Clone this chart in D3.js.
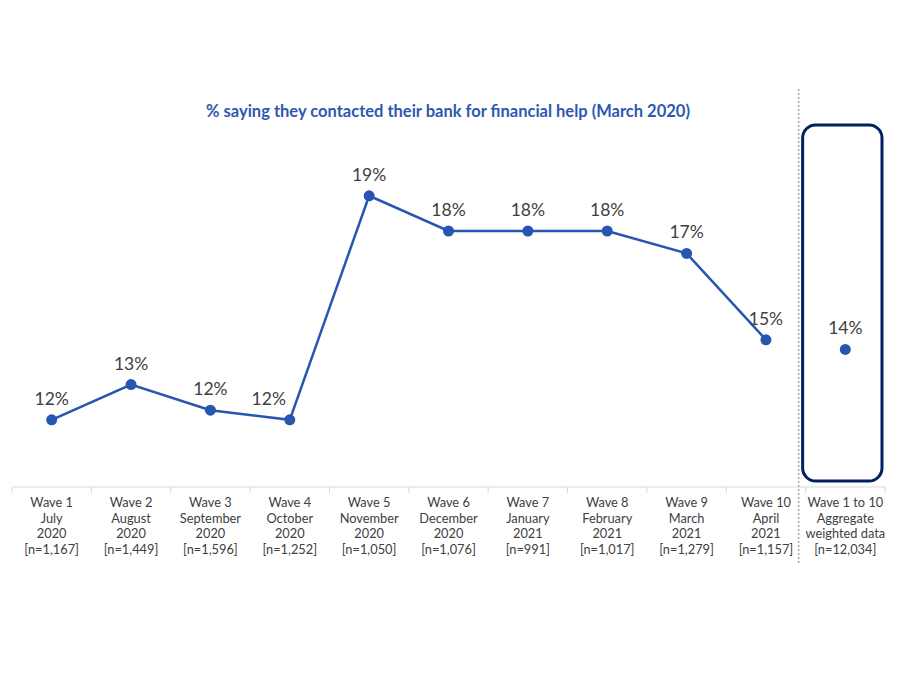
<!DOCTYPE html>
<html>
<head>
<meta charset="utf-8">
<script src="https://cdn.jsdelivr.net/npm/d3@7"></script>
<style>
  body { margin: 0; background: #fff; }
  svg { font-family: Lato, "Open Sans", sans-serif; }
</style>
</head>
<body>
<svg width="900" height="675"></svg>
<script>
// Category labels (each line of the axis label)
const waves = ["Wave 1", "Wave 2", "Wave 3", "Wave 4", "Wave 5", "Wave 6", "Wave 7", "Wave 8", "Wave 9", "Wave 10", "Wave 1 to 10"];
const months = ["July", "August", "September", "October", "November", "December", "January", "February", "March", "April", "Aggregate"];
const years = ["2020", "2020", "2020", "2020", "2020", "2020", "2021", "2021", "2021", "2021", "weighted data"];
const samples = ["[n=1,167]", "[n=1,449]", "[n=1,596]", "[n=1,252]", "[n=1,050]", "[n=1,076]", "[n=991]", "[n=1,017]", "[n=1,279]", "[n=1,157]", "[n=12,034]"];

// % values (line = waves 1-10, last one is the aggregate point)
const values = [12.1, 13.2, 12.4, 12.1, 19.1, 18.0, 18.0, 18.0, 17.3, 14.6, 14.3];
const valueLabels = ["12%", "13%", "12%", "12%", "19%", "18%", "18%", "18%", "17%", "15%", "14%"];

const title = "% saying they contacted their bank for financial help (March 2020)";

const svg = d3.select("svg");
const lineColor = "#2756b0";

const x = d3.scaleBand()
  .domain(waves)
  .range([12, 885]);

const y = d3.scaleLinear()
  .domain([10, 20])
  .range([487, 167]);

// Title
svg.append("text")
  .attr("x", 448)
  .attr("y", 117)
  .attr("text-anchor", "middle")
  .attr("font-size", 16.5)
  .attr("font-weight", "bold")
  .attr("fill", "#2e58b0")
  .text(title);

// Axis line and tick marks at category boundaries
const axisY = y(10);
svg.append("line")
  .attr("x1", 12).attr("x2", 885)
  .attr("y1", axisY).attr("y2", axisY)
  .attr("stroke", "#d9d9d9")
  .attr("stroke-width", 1);

const bounds = waves.map(w => x(w)).concat([x.range()[1]]);
svg.append("g")
  .selectAll("line")
  .data(bounds)
  .enter()
  .append("line")
  .attr("x1", d => d).attr("x2", d => d)
  .attr("y1", axisY).attr("y2", axisY + 6)
  .attr("stroke", "#d9d9d9");

// Multi-line category labels
const tickLabels = svg.append("g")
  .selectAll("text")
  .data(waves)
  .enter()
  .append("text")
  .attr("text-anchor", "middle")
  .attr("font-size", 12.8)
  .attr("fill", "#404040");

[waves, months, years, samples].forEach((row, r) => {
  tickLabels.append("tspan")
    .attr("x", d => x(d) + x.bandwidth() / 2)
    .attr("y", 507 + r * 15.7)
    .text((d, i) => row[i]);
});

// Dotted separator before the aggregate column
const sepX = x(waves[10]) - 7;
svg.append("line")
  .attr("x1", sepX).attr("x2", sepX)
  .attr("y1", 89).attr("y2", 565)
  .attr("stroke", "#a6a6a6")
  .attr("stroke-width", 1.5)
  .attr("stroke-dasharray", "2,2");

// Rounded box around the aggregate point
svg.append("rect")
  .attr("x", x(waves[10]) - 3)
  .attr("y", 125)
  .attr("width", x.bandwidth())
  .attr("height", 356)
  .attr("rx", 13)
  .attr("fill", "none")
  .attr("stroke", "#002060")
  .attr("stroke-width", 3);

// Line for waves 1-10
const cx = d => x(d) + x.bandwidth() / 2;
const lineData = waves.slice(0, 10).map((w, i) => ({ w, v: values[i] }));

svg.append("path")
  .datum(lineData)
  .attr("fill", "none")
  .attr("stroke", lineColor)
  .attr("stroke-width", 2.5)
  .attr("d", d3.line().x(d => cx(d.w)).y(d => y(d.v)));

// Markers and labels
const pts = waves.map((w, i) => ({ w, v: values[i], label: valueLabels[i] }));

svg.append("g")
  .selectAll("circle")
  .data(pts)
  .enter()
  .append("circle")
  .attr("cx", d => cx(d.w))
  .attr("cy", d => y(d.v))
  .attr("r", 5.5)
  .attr("fill", lineColor);

svg.append("g")
  .selectAll("text")
  .data(pts)
  .enter()
  .append("text")
  .attr("x", d => cx(d.w))
  .attr("dx", (d, i) => i === 3 ? -21 : 0) // wave 4 label nudged left off the line
  .attr("y", d => y(d.v) - 15)
  .attr("text-anchor", "middle")
  .attr("font-size", 17.5)
  .attr("fill", "#404040")
  .text(d => d.label);
</script>
</body>
</html>
